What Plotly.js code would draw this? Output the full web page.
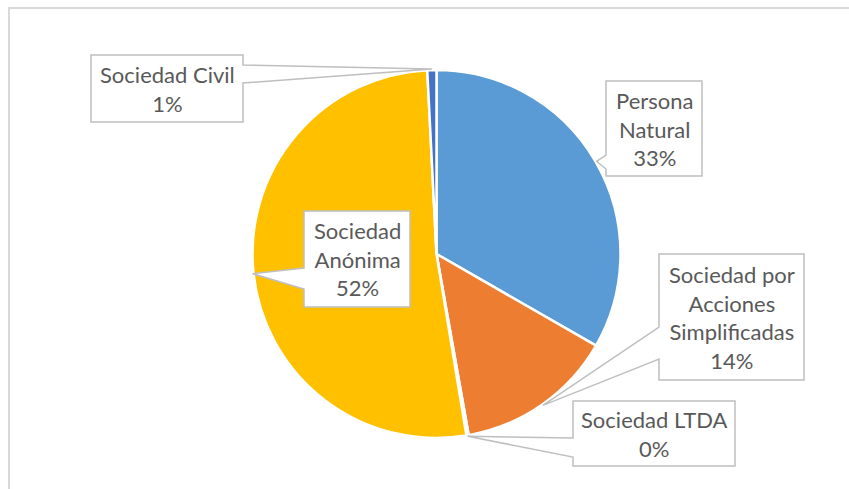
<!DOCTYPE html>
<html>
<head>
<meta charset="utf-8">
<script src="https://cdn.plot.ly/plotly-3.0.1.min.js"></script>
<style>
  html, body { margin: 0; padding: 0; background: #ffffff; }
  #chart { width: 849px; height: 489px; }
</style>
</head>
<body>
<div id="chart"></div>
<script>
// ---- data ----
var categories = ['Persona Natural', 'Sociedad por Acciones Simplificadas', 'Sociedad LTDA', 'Sociedad Anónima', 'Sociedad Civil'];
var shares = [33.3, 13.9, 0.2, 51.8, 0.8];
var wrappedLabels = ['Persona<br>Natural', 'Sociedad por<br>Acciones<br>Simplificadas', 'Sociedad LTDA', 'Sociedad<br>Anónima', 'Sociedad Civil'];
var sliceColors = ['#5B9BD5', '#ED7D31', '#A5A5A5', '#FFC000', '#4472C4'];

// ---- layout constants (pixels) ----
var W = 849, H = 489;
var CX = 436.5, CY = 254, R = 184;
// callout boxes: [x0, y0, x1, y1], wedge side, wedge base along that side
var callouts = [
  { box: [606, 81, 702, 176], side: 'left', base: [155, 169] },
  { box: [659, 254, 804, 380], side: 'left', base: [327, 359] },
  { box: [573, 401, 735, 466], side: 'left', base: [438, 457] },
  { box: [304, 211, 410, 307], side: 'left', base: [268, 289] },
  { box: [91, 55, 243, 122], side: 'right', base: [65, 83] }
];

function px(x) { return x / W; }
function py(y) { return 1 - y / H; }
function pt(x, y) { return px(x).toFixed(5) + ',' + py(y).toFixed(5); }

var total = shares.reduce(function (a, b) { return a + b; }, 0);

var shapes = [
  { type: 'rect', xref: 'paper', yref: 'paper', x0: px(9), y0: py(8), x1: px(W + 20), y1: py(H + 20),
    line: { color: '#D9D9D9', width: 2 }, fillcolor: 'rgba(0,0,0,0)', layer: 'below' }
];
var annotations = [];

var cum = 0;
for (var i = 0; i < shares.length; i++) {
  var theta = 2 * Math.PI * (cum + shares[i] / 2) / total;
  cum += shares[i];
  var tx = CX + (R + 1) * Math.sin(theta);
  var ty = CY - (R + 1) * Math.cos(theta);
  var c = callouts[i];
  var b = c.box;
  var path;
  if (c.side === 'left') {
    path = 'M' + pt(b[0], b[1]) + ' L' + pt(b[2], b[1]) + ' L' + pt(b[2], b[3]) + ' L' + pt(b[0], b[3]) +
           ' L' + pt(b[0], c.base[1]) + ' L' + pt(tx, ty) + ' L' + pt(b[0], c.base[0]) + ' Z';
  } else {
    path = 'M' + pt(b[0], b[1]) + ' L' + pt(b[2], b[1]) + ' L' + pt(b[2], c.base[0]) + ' L' + pt(tx, ty) +
           ' L' + pt(b[2], c.base[1]) + ' L' + pt(b[2], b[3]) + ' L' + pt(b[0], b[3]) + ' Z';
  }
  shapes.push({ type: 'path', xref: 'paper', yref: 'paper', path: path,
    fillcolor: '#FFFFFF', line: { color: '#BFBFBF', width: 1.5 }, layer: 'above' });
  var pct = Math.round(shares[i] / total * 100);
  annotations.push({
    xref: 'paper', yref: 'paper', x: px((b[0] + b[2]) / 2), y: py((b[1] + b[3]) / 2),
    xanchor: 'center', yanchor: 'middle', showarrow: false, align: 'center',
    text: wrappedLabels[i] + '<br>' + pct + '%',
    font: { family: 'Lato, sans-serif', size: 22, color: '#595959' }
  });
}

var trace = {
  type: 'pie',
  labels: categories,
  values: shares,
  sort: false,
  direction: 'clockwise',
  rotation: 0,
  marker: { colors: sliceColors, line: { color: '#FFFFFF', width: 2.5 } },
  textinfo: 'none',
  hoverinfo: 'label+percent',
  showlegend: false,
  domain: { x: [px(CX - R), px(CX + R)], y: [py(CY + R), py(CY - R)] }
};

var layout = {
  width: W, height: H,
  margin: { l: 0, r: 0, t: 0, b: 0 },
  paper_bgcolor: '#FFFFFF',
  plot_bgcolor: '#FFFFFF',
  showlegend: false,
  shapes: shapes,
  annotations: annotations
};

Plotly.newPlot('chart', [trace], layout, { displayModeBar: false, staticPlot: true });
</script>
</body>
</html>
